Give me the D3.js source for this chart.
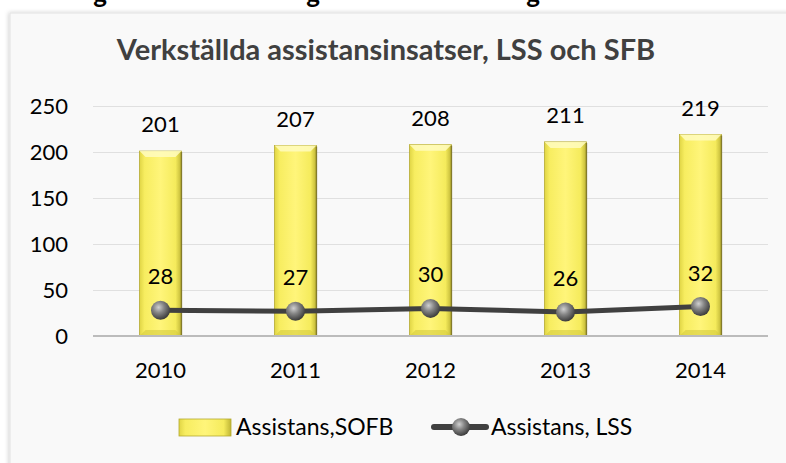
<!DOCTYPE html>
<html>
<head>
<meta charset="utf-8">
<script src="https://cdn.jsdelivr.net/npm/d3@7"></script>
<style>
  body { margin: 0; background: #fff; }
  svg { display: block; font-family: Lato, "Open Sans", sans-serif; }
</style>
</head>
<body>
<svg id="chart" width="786" height="463"></svg>
<script>
// data
const years = ['2010', '2011', '2012', '2013', '2014'];
const sofb = [201, 207, 208, 211, 219];
const lss = [28, 27, 30, 26, 32];
const yTicks = [0, 50, 100, 150, 200, 250];
const title = 'Verkställda assistansinsatser, LSS och SFB';
const seriesNames = ['Assistans,SOFB', 'Assistans, LSS'];

const svg = d3.select('#chart');
const width = 786, height = 463;

// gradients
const defs = svg.append('defs');
const barGrad = defs.append('linearGradient').attr('id', 'barGrad')
  .attr('x1', 0).attr('x2', 1).attr('y1', 0).attr('y2', 0);
barGrad.append('stop').attr('offset', '0%').attr('stop-color', '#e0d545');
barGrad.append('stop').attr('offset', '12%').attr('stop-color', '#f7ed60');
barGrad.append('stop').attr('offset', '50%').attr('stop-color', '#fff57a');
barGrad.append('stop').attr('offset', '86%').attr('stop-color', '#f5eb5c');
barGrad.append('stop').attr('offset', '100%').attr('stop-color', '#bfb535');

const ballGrad = defs.append('radialGradient').attr('id', 'ball')
  .attr('cx', '40%').attr('cy', '35%').attr('r', '65%');
ballGrad.append('stop').attr('offset', '0%').attr('stop-color', '#d0d0d0');
ballGrad.append('stop').attr('offset', '45%').attr('stop-color', '#858585');
ballGrad.append('stop').attr('offset', '100%').attr('stop-color', '#3c3c3c');

const shadow = defs.append('filter').attr('id', 'shadow')
  .attr('x', '-5%').attr('y', '-5%').attr('width', '110%').attr('height', '110%');
shadow.append('feDropShadow').attr('dx', -1).attr('dy', 0).attr('stdDeviation', 2)
  .attr('flood-color', '#000').attr('flood-opacity', 0.18);

// cut-off heading above the chart
svg.selectAll('.cut').data([100, 313, 533]).enter().append('text')
  .attr('x', d => d).attr('y', 3)
  .attr('text-anchor', 'middle')
  .style('font-size', '26px').style('font-weight', 'bold')
  .text('g');

// chart frame
svg.append('rect')
  .attr('x', 10).attr('y', 13)
  .attr('width', 800).attr('height', 470)
  .attr('fill', '#f9f9f9')
  .attr('stroke', '#e2e2e2').attr('stroke-width', 1)
  .attr('filter', 'url(#shadow)');

// title
svg.append('text')
  .attr('x', 386).attr('y', 60)
  .attr('text-anchor', 'middle')
  .attr('fill', '#404040')
  .style('font-size', '29px').style('font-weight', 'bold')
  .text(title);

// scales
const xScale = d3.scaleBand()
  .domain(years)
  .range([93, 768])
  .paddingInner(0.69)
  .paddingOuter(0.345);

const yScale = d3.scaleLinear()
  .domain([0, 250])
  .range([336, 106]);

// gridlines
svg.append('g')
  .attr('transform', 'translate(93,0)')
  .call(d3.axisLeft(yScale).tickValues(yTicks).tickSize(-675).tickFormat(''))
  .call(g => g.select('.domain').remove())
  .call(g => g.selectAll('line').attr('stroke', '#e0e0e0').attr('stroke-width', 1));

// y labels
svg.append('g')
  .attr('transform', 'translate(93,0)')
  .call(d3.axisLeft(yScale).tickValues(yTicks).tickSize(0).tickPadding(25))
  .call(g => g.select('.domain').remove())
  .call(g => g.selectAll('text').attr('fill', '#000').style('font-size', '22px')
    .style('font-family', 'Lato, sans-serif'));

// bars
const bars = svg.append('g');
years.forEach((yr, i) => {
  const x = xScale(yr), w = xScale.bandwidth();
  const y = yScale(sofb[i]), h = yScale(0) - yScale(sofb[i]);
  bars.append('rect')
    .attr('x', x).attr('y', y).attr('width', w).attr('height', h)
    .attr('fill', 'url(#barGrad)')
    .attr('stroke', '#b5aa30').attr('stroke-width', 0.8);
  // top bevel highlight
  bars.append('path')
    .attr('d', `M${x},${y}L${x + w},${y}L${x + w - 6},${y + 6}L${x + 6},${y + 6}Z`)
    .attr('fill', '#fffcc0').attr('opacity', 0.85);
  // bottom bevel shade
  bars.append('path')
    .attr('d', `M${x},${y + h}L${x + w},${y + h}L${x + w - 6},${y + h - 6}L${x + 6},${y + h - 6}Z`)
    .attr('fill', '#d6cb3e').attr('opacity', 0.6);
  // right edge shadow
  bars.append('line')
    .attr('x1', x + w).attr('x2', x + w).attr('y1', y + 1).attr('y2', y + h)
    .attr('stroke', '#6d6620').attr('stroke-width', 1.5).attr('opacity', 0.7);
});

// bar labels
svg.append('g').selectAll('text')
  .data(sofb).enter().append('text')
  .attr('x', (d, i) => xScale(years[i]) + xScale.bandwidth() / 2)
  .attr('y', d => yScale(d) - 19)
  .attr('text-anchor', 'middle')
  .style('font-size', '22px')
  .text(d => d);

// zero axis
svg.append('line')
  .attr('x1', 93).attr('x2', 768)
  .attr('y1', yScale(0)).attr('y2', yScale(0))
  .attr('stroke', '#bcbcbc').attr('stroke-width', 2);

// x labels
svg.append('g')
  .attr('transform', `translate(0,${yScale(0)})`)
  .call(d3.axisBottom(xScale).tickSize(0).tickPadding(26))
  .call(g => g.select('.domain').remove())
  .call(g => g.selectAll('text').attr('fill', '#000').style('font-size', '22px')
    .style('font-family', 'Lato, sans-serif'));

// LSS line
const cx = (d, i) => xScale(years[i]) + xScale.bandwidth() / 2;
const line = d3.line()
  .x((d, i) => cx(d, i))
  .y(d => yScale(d));

svg.append('path')
  .datum(lss)
  .attr('d', line)
  .attr('fill', 'none')
  .attr('stroke', '#404040')
  .attr('stroke-width', 5);

svg.append('g').selectAll('circle')
  .data(lss).enter().append('circle')
  .attr('cx', cx)
  .attr('cy', d => yScale(d))
  .attr('r', 9.5)
  .attr('fill', 'url(#ball)');

svg.append('g').selectAll('text')
  .data(lss).enter().append('text')
  .attr('x', cx)
  .attr('y', d => yScale(d) - 26)
  .attr('text-anchor', 'middle')
  .style('font-size', '22px')
  .text(d => d);

// legend
const legend = svg.append('g');
legend.append('rect')
  .attr('x', 179).attr('y', 419).attr('width', 52).attr('height', 17)
  .attr('fill', 'url(#barGrad)').attr('stroke', '#b5aa30').attr('stroke-width', 0.8);
legend.append('text')
  .attr('x', 236).attr('y', 435)
  .style('font-size', '23px')
  .text(seriesNames[0]);

legend.append('line')
  .attr('x1', 434).attr('x2', 486).attr('y1', 427).attr('y2', 427)
  .attr('stroke', '#404040').attr('stroke-width', 6).attr('stroke-linecap', 'round');
legend.append('circle')
  .attr('cx', 461).attr('cy', 427).attr('r', 9)
  .attr('fill', 'url(#ball)');
legend.append('text')
  .attr('x', 491).attr('y', 435)
  .style('font-size', '23px')
  .text(seriesNames[1]);
</script>
</body>
</html>
